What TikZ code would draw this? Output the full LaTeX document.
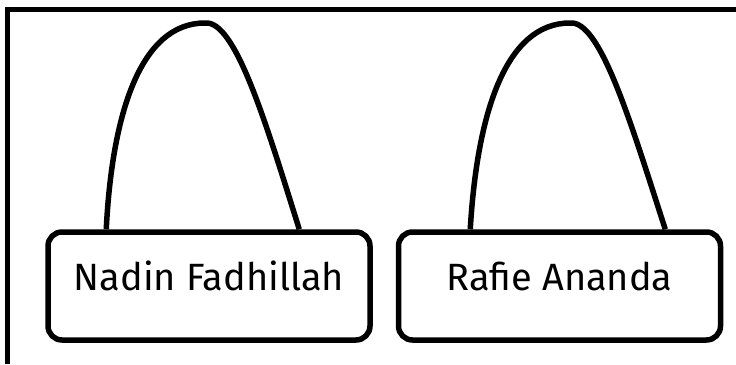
\documentclass[tikz,border=0pt]{standalone}
\usepackage{fontspec}
\setmainfont{Fira Sans}

\begin{document}
\begin{tikzpicture}[x=1pt,y=-1pt,
    namebox/.style={draw,line width=5.5pt,rounded corners=14pt,
      minimum width=322pt,minimum height=108pt,inner sep=0pt,
      text height=28pt,text depth=20pt,font=\fontsize{38}{44}\selectfont},
    arcline/.style={line width=5.5pt}]
  \useasboundingbox (0,0) rectangle (736,364);
  \draw[line width=5pt] (7,364) -- (7,9) -- (736,9);

  \node[namebox] (N1) at (209,286) {Nadin Fadhillah};
  \node[namebox] (N2) at (559.5,286) {Rafie Ananda};

  \coordinate (P1) at (205,23);
  \coordinate (P2) at (570,23);

  \draw[arcline] ([xshift=61pt]N1.north west) .. controls (112,115) and (140,23) .. (P1)
    .. controls (235,20) and (265,120) .. ([xshift=254pt]N1.north west);
  \draw[arcline] ([xshift=74.5pt]N2.north west) .. controls (477,115) and (505,23) .. (P2)
    .. controls (600,20) and (630,120) .. ([xshift=269.5pt]N2.north west);
\end{tikzpicture}
\end{document}
